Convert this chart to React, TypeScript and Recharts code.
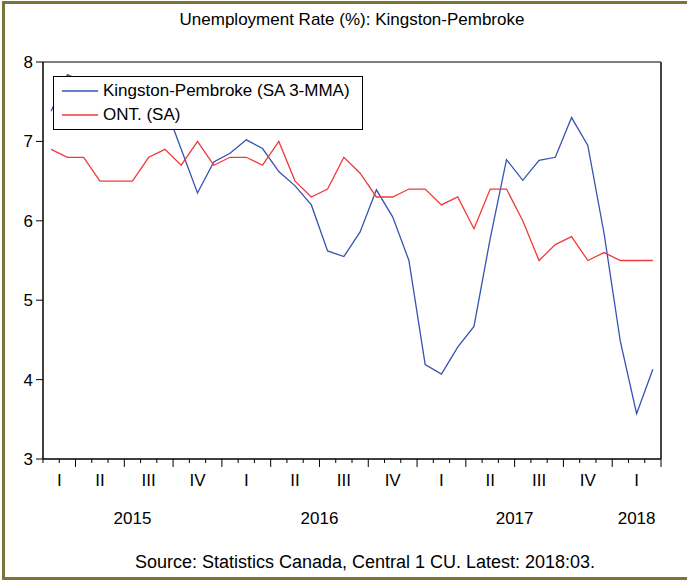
import React from 'react';
import { LineChart, Line, XAxis, YAxis, Legend, ReferenceArea, ReferenceLine } from 'recharts';

// monthly observations, Feb 2015 .. Mar 2018
const months = [
  '2015-02', '2015-03', '2015-04', '2015-05', '2015-06', '2015-07', '2015-08', '2015-09', '2015-10', '2015-11', '2015-12',
  '2016-01', '2016-02', '2016-03', '2016-04', '2016-05', '2016-06', '2016-07', '2016-08', '2016-09', '2016-10', '2016-11', '2016-12',
  '2017-01', '2017-02', '2017-03', '2017-04', '2017-05', '2017-06', '2017-07', '2017-08', '2017-09', '2017-10', '2017-11', '2017-12',
  '2018-01', '2018-02', '2018-03',
];

const kingston = [
  7.38, 7.84, 7.75, 7.6, 7.55, 7.6, 7.55, 7.45, 6.9, 6.35, 6.74,
  6.85, 7.02, 6.91, 6.62, 6.44, 6.2, 5.62, 5.55, 5.86, 6.39, 6.05, 5.5,
  4.19, 4.07, 4.41, 4.67, 5.78, 6.77, 6.51, 6.76, 6.8, 7.3, 6.95, 5.84,
  4.48, 3.57, 4.13,
];

const ontario = [
  6.9, 6.8, 6.8, 6.5, 6.5, 6.5, 6.8, 6.9, 6.7, 7.0, 6.7,
  6.8, 6.8, 6.7, 7.0, 6.5, 6.3, 6.4, 6.8, 6.6, 6.3, 6.3, 6.4,
  6.4, 6.2, 6.3, 5.9, 6.4, 6.4, 6.0, 5.5, 5.7, 5.8, 5.5, 5.6,
  5.5, 5.5, 5.5,
];

const quarterLabels = ['I', 'II', 'III', 'IV', 'I', 'II', 'III', 'IV', 'I', 'II', 'III', 'IV', 'I'];
const yearLabels = ['2015', '2016', '2017', '2018'];
const yTicks = [3, 4, 5, 6, 7, 8];

const SERIES = {
  kingston: { name: 'Kingston-Pembroke (SA 3-MMA)', color: '#3653b2' },
  ontario: { name: 'ONT. (SA)', color: '#f03a3a' },
};

const data = months.map((m, i) => ({ month: m, x: i + 0.5, kingston: kingston[i], ontario: ontario[i] }));

// group consecutive months (by quarter or by year) -> {start, end}
function groupBy(keyOf: (m: string) => string) {
  const groups: { start: number; end: number }[] = [];
  let prev = '';
  months.forEach((m, i) => {
    const k = keyOf(m);
    if (k !== prev) groups.push({ start: i, end: i + 1 });
    else groups[groups.length - 1].end = i + 1;
    prev = k;
  });
  return groups;
}

const quarterKey = (m: string) => {
  const [y, mo] = m.split('-').map(Number);
  return `${y}-${Math.floor((mo - 1) / 3)}`;
};
const quarters = groupBy(quarterKey);
const years = groupBy((m) => m.slice(0, 4));

const quarterMids = quarters.map((g) => (g.start + g.end) / 2);
const yearMids = years.map((g) => (g.start + g.end) / 2);
const boundaries = Array.from({ length: months.length + 1 }, (_, i) => i);
const quarterEdges = new Set(quarters.map((g) => g.end));

const MonthTick = (props: any) => {
  const { x, y, payload } = props;
  const len = quarterEdges.has(payload.value) ? 8 : 4;
  return <line x1={x} x2={x} y1={y} y2={y + len} stroke="#000" strokeWidth={1} />;
};

const renderLegend = () => (
  <div
    style={{
      width: 308,
      height: 52,
      border: '1px solid #000',
      background: '#fff',
      fontSize: 17,
      color: '#000',
      position: 'relative',
    }}
  >
    {[SERIES.kingston, SERIES.ontario].map((s, i) => (
      <div key={s.name} style={{ position: 'absolute', left: 8, top: 4 + i * 24, height: 20, display: 'flex', alignItems: 'center' }}>
        <svg width={36} height={4} style={{ display: 'block' }}>
          <line x1={0} x2={36} y1={2} y2={2} stroke={s.color} strokeWidth={1.3} />
        </svg>
        <span style={{ marginLeft: 5, whiteSpace: 'nowrap', lineHeight: '20px' }}>{s.name}</span>
      </div>
    ))}
  </div>
);

export default function App() {
  const n = months.length;
  return (
    <div
      style={{
        position: 'absolute',
        left: 0,
        top: 0,
        width: 687,
        height: 580,
        background: '#fff',
        fontFamily: '"Liberation Sans", Arial, sans-serif',
        overflow: 'hidden',
      }}
    >
      <div
        style={{
          position: 'absolute',
          left: 2,
          top: 1,
          width: 690,
          height: 573,
          borderTop: '3px solid #7a7638',
          borderLeft: '3px solid #7a7638',
          borderBottom: '3px solid #7a7638',
        }}
      />
      <div style={{ position: 'absolute', left: 352, top: 10, transform: 'translateX(-50%)', fontSize: 17, whiteSpace: 'nowrap' }}>
        Unemployment Rate (%): Kingston-Pembroke
      </div>
      <div style={{ position: 'absolute', left: 0, top: 0 }}>
        <LineChart width={687} height={580} data={data} margin={{ top: 62, right: 26, bottom: 33, left: 0 }}>
          <ReferenceArea x1={0} x2={n} y1={3} y2={8} fill="none" stroke="#000" strokeWidth={1} ifOverflow="visible" />
          <ReferenceLine x={n} stroke="#444" strokeWidth={2} ifOverflow="visible" />
          <XAxis
            dataKey="x"
            type="number"
            domain={[0, n]}
            ticks={boundaries}
            interval={0}
            allowDataOverflow
            height={12}
            tickSize={0}
            tickMargin={0}
            tickLine={false}
            tick={<MonthTick />}
            axisLine={{ stroke: '#000' }}
          />
          <XAxis
            xAxisId="q"
            dataKey="x"
            type="number"
            domain={[0, n]}
            ticks={quarterMids}
            interval={0}
            allowDataOverflow
            height={36}
            tickSize={0}
            tickMargin={3}
            tickLine={false}
            axisLine={false}
            tick={{ fontSize: 17, fill: '#000' }}
            tickFormatter={(v: number) => quarterLabels[quarterMids.indexOf(v)] ?? ''}
          />
          <XAxis
            xAxisId="yr"
            dataKey="x"
            type="number"
            domain={[0, n]}
            ticks={yearMids}
            interval={0}
            allowDataOverflow
            height={40}
            tickSize={0}
            tickMargin={5}
            tickLine={false}
            axisLine={false}
            tick={{ fontSize: 17, fill: '#000' }}
            tickFormatter={(v: number) => yearLabels[yearMids.indexOf(v)] ?? ''}
          />
          <YAxis
            type="number"
            domain={[3, 8]}
            ticks={yTicks}
            interval={0}
            allowDataOverflow
            width={43}
            tickSize={7}
            tickMargin={3}
            tickLine={{ stroke: '#000' }}
            axisLine={{ stroke: '#000' }}
            tick={{ fontSize: 17, fill: '#000' }}
          />
          <Line
            type="linear"
            dataKey="kingston"
            name={SERIES.kingston.name}
            stroke={SERIES.kingston.color}
            strokeWidth={1.3}
            dot={false}
            activeDot={false}
            isAnimationActive={false}
          />
          <Line
            type="linear"
            dataKey="ontario"
            name={SERIES.ontario.name}
            stroke={SERIES.ontario.color}
            strokeWidth={1.3}
            dot={false}
            activeDot={false}
            isAnimationActive={false}
          />
          <Legend
            layout="horizontal"
            align="center"
            verticalAlign="middle"
            content={renderLegend}
            wrapperStyle={{ left: 53, top: 76, width: 'auto', height: 'auto' }}
          />
        </LineChart>
      </div>
      <div style={{ position: 'absolute', left: 365, top: 552, transform: 'translateX(-50%)', fontSize: 18, whiteSpace: 'nowrap' }}>
        Source: Statistics Canada, Central 1 CU. Latest: 2018:03.
      </div>
    </div>
  );
}
